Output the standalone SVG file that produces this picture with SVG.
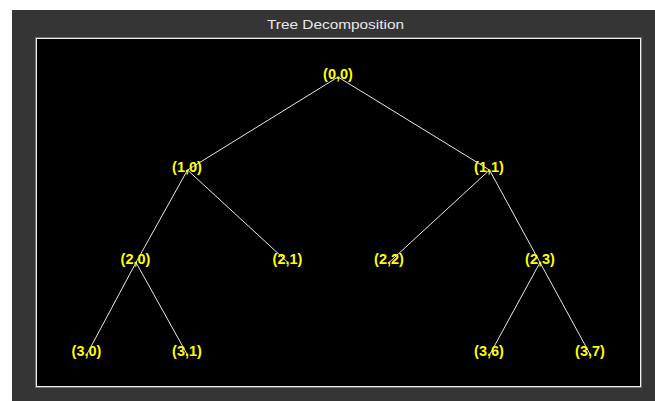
<svg xmlns="http://www.w3.org/2000/svg" width="655" height="401" viewBox="0 0 655 401">
<style>
.lbl{font-family:"Liberation Sans",Arial,sans-serif;font-weight:bold;font-size:14.5px;fill:#ffff00;text-anchor:middle}
.edge{stroke:#e8e8e8;stroke-width:1;fill:none}
.title{font-family:"Liberation Sans",Arial,sans-serif;font-size:13.5px;fill:#e8e8e8;text-anchor:middle}
</style>
<rect x="0" y="0" width="655" height="401" fill="#ffffff"/>
<rect x="12" y="10" width="643" height="391" fill="#353535"/>
<text class="title" x="335.5" y="29" textLength="137" lengthAdjust="spacingAndGlyphs">Tree Decomposition</text>
<rect x="35.5" y="37.5" width="606" height="350" fill="none" stroke="#707070" stroke-width="1"/>
<rect x="36.5" y="38.5" width="604" height="348" fill="#000000" stroke="#f0f0f0" stroke-width="1"/>
<g id="connectors">
<line class="edge" x1="338" y1="77" x2="187.5" y2="170"/>
<line class="edge" x1="338" y1="77" x2="489.5" y2="170"/>
<line class="edge" x1="187.5" y1="170" x2="136" y2="262.5"/>
<line class="edge" x1="187.5" y1="170" x2="288" y2="262.5"/>
<line class="edge" x1="489.5" y1="170" x2="389" y2="262.5"/>
<line class="edge" x1="489.5" y1="170" x2="540" y2="262.5"/>
<line class="edge" x1="136" y1="262.5" x2="86.5" y2="355"/>
<line class="edge" x1="136" y1="262.5" x2="187.5" y2="355"/>
<line class="edge" x1="540" y1="262.5" x2="489.5" y2="355"/>
<line class="edge" x1="540" y1="262.5" x2="590.5" y2="355"/>
</g>
<g id="n00"><text class="lbl" x="338" y="78.5">(0,0)</text></g>
<g id="n10"><text class="lbl" x="187" y="171.5">(1,0)</text></g>
<g id="n11"><text class="lbl" x="489" y="171.5">(1,1)</text></g>
<g id="n20"><text class="lbl" x="135.5" y="263.5">(2,0)</text></g>
<g id="n21"><text class="lbl" x="287.5" y="263.5">(2,1)</text></g>
<g id="n22"><text class="lbl" x="389" y="263.5">(2,2)</text></g>
<g id="n23"><text class="lbl" x="540" y="263.5">(2,3)</text></g>
<g id="n30"><text class="lbl" x="86.5" y="356">(3,0)</text></g>
<g id="n31"><text class="lbl" x="187" y="356">(3,1)</text></g>
<g id="n36"><text class="lbl" x="489" y="356">(3,6)</text></g>
<g id="n37"><text class="lbl" x="590" y="356">(3,7)</text></g>
</svg>
